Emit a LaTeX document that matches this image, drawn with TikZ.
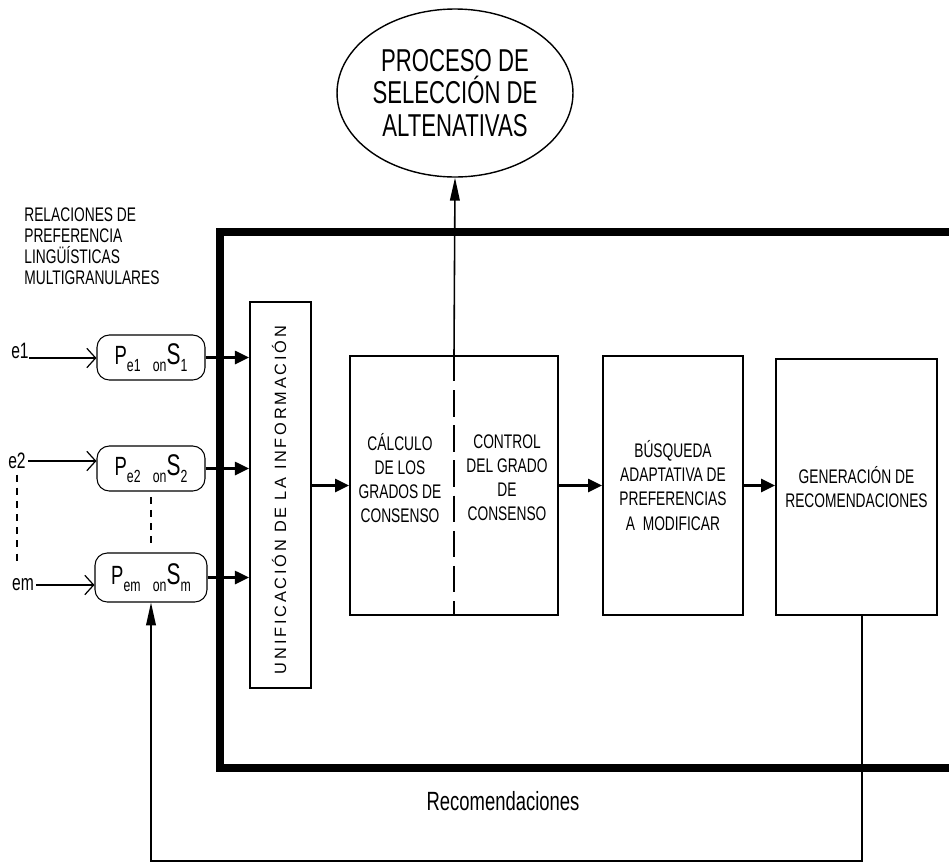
\documentclass[tikz,border=0pt]{standalone}
\usepackage{fontspec}
\setmainfont{Liberation Sans}
\newfontfamily\narrowfont{Liberation Sans}[FakeStretch=0.70]
\newfontfamily\spacedfont{Liberation Sans}[LetterSpace=17]
\usetikzlibrary{shapes.geometric,arrows.meta,positioning}
\newcommand{\psub}[1]{\raisebox{-3.8pt}{\fontsize{10}{10}\selectfont #1}}

\begin{document}
\begin{tikzpicture}[x=0.02cm, y=-0.02cm,
    block/.style={draw, line width=1.1pt, align=center, inner sep=0pt,
        font=\narrowfont\fontsize{11.2}{13.7}\selectfont},
    blocktext/.style={align=center, inner sep=0pt,
        font=\narrowfont\fontsize{11.2}{13.7}\selectfont},
    inbox/.style={draw, rounded corners=7pt, line width=0.6pt, inner sep=0pt,
        font=\narrowfont\fontsize{15}{15}\selectfont},
    sel/.style={draw, ellipse, line width=0.8pt, align=center, inner sep=0pt,
        minimum width=4.72cm, minimum height=3.36cm,
        font=\narrowfont\fontsize{18}{18.6}\selectfont},
    note/.style={align=left, inner sep=0pt, font=\narrowfont\fontsize{11.2}{12}\selectfont},
    expert/.style={inner sep=1pt, font=\narrowfont\fontsize{12.7}{12.7}\selectfont},
    frame/.style={line width=4.2pt},
    arrow/.style={-{Triangle[length=8pt,width=7.5pt]}, line width=1.2pt},
    inarrow/.style={-{Straight Barb[length=5pt,width=11pt]}, line width=0.7pt},
    uparrow/.style={-{Triangle[length=13pt,width=5.5pt]}, line width=0.9pt},
    divider/.style={line width=0.9pt, dash pattern=on 15pt off 5pt},
    dots/.style={line width=0.6pt, dash pattern=on 4pt off 3.5pt}
]
\useasboundingbox (0,0) rectangle (949,863);

% marco del sistema de consenso
\draw[frame] (960,232) -- (220,232) -- (220,768) -- (960,768);

% proceso de seleccion
\node[sel] (sel) at (455,93) {PROCESO DE\\SELECCIÓN DE\\ALTENATIVAS};

% preferencias de entrada
\node[note, anchor=north west] (rel) at (24,207)
    {RELACIONES DE\\PREFERENCIA\\LINGÜÍSTICAS\\MULTIGRANULARES};
\node[inbox, minimum width=2.16cm, minimum height=0.9cm] (pe1) at (151,357.5)
    {P\psub{e1\hspace{7pt}on}{\fontsize{17}{17}\selectfont S}\psub{1}};
\node[inbox, minimum width=2.16cm, minimum height=0.9cm] (pe2) at (151,468.5)
    {P\psub{e2\hspace{7pt}on}{\fontsize{17}{17}\selectfont S}\psub{2}};
\node[inbox, minimum width=2.24cm, minimum height=0.98cm] (pem) at (151,577.5)
    {P\psub{em\hspace{7pt}on}{\fontsize{17}{17}\selectfont S}\psub{m}};

\node[expert, anchor=base east, inner sep=0pt] (e1) at (29,358) {e1};
\node[expert] (e2) at (17,461) {e2};
\node[expert] (em) at (23,585) {em};

\draw[inarrow] (e1.base east) -- (e1.base east -| pe1.west);
\draw[inarrow] (e2.east) -- (e2.east -| pe2.west);
\draw[inarrow] (em.east) -- (em.east -| pem.west);
\draw[dots, shorten <=2pt, shorten >=8pt] (e2.south) -- (e2.south |- em.north);
\draw[dots, shorten <=3pt, shorten >=3.5pt] (pe2.south) -- (pe2.south |- pem.north);

% unificacion
\node[block, minimum width=1.22cm, minimum height=7.72cm] (uni) at (280.5,495) {};
\node[rotate=90, inner sep=0pt, font=\spacedfont\fontsize{9.3}{9.3}\selectfont]
    (unitxt) at (279,500) {UNIFICACIÓN DE LA INFORMACIÓN};

% consenso
\node[block, minimum width=4.16cm, minimum height=5.18cm] (cons) at (454,485.5) {};
\node[blocktext] (calc) at (400,478) {CÁLCULO\\DE LOS\\GRADOS DE\\CONSENSO};
\node[blocktext] (ctrl) at (507,478) {CONTROL\\DEL GRADO\\DE\\CONSENSO};
\draw[divider] (cons.north) -- (cons.south);

\node[block, minimum width=2.8cm, minimum height=5.18cm] (busq) at (673,485.5)
    {BÚSQUEDA\\ADAPTATIVA DE\\PREFERENCIAS\\A\ \ MODIFICAR};
\node[block, minimum width=3.22cm, minimum height=5.12cm] (gen) at (856.5,487)
    {GENERACIÓN DE\\RECOMENDACIONES};

% flechas
\draw[arrow] (pe1.east) -- (pe1.east -| uni.west);
\draw[arrow] (pe2.east) -- (pe2.east -| uni.west);
\draw[arrow] (pem.east) -- (pem.east -| uni.west);
\draw[arrow] (uni.east |- cons.west) -- (cons.west);
\draw[arrow] (cons.east) -- (busq.west);
\draw[arrow] (busq.east) -- (busq.east -| gen.west);
\draw[uparrow] (cons.north) -- (sel.south);

% recomendaciones
\coordinate (fb) at (862,861);
\draw[uparrow] (gen.south -| fb) -- (fb) -- (fb -| pem.south) -- (pem.south);
\node[note, font=\narrowfont\fontsize{15}{15}\selectfont] (rec) at (503,801) {Recomendaciones};

\end{tikzpicture}
\end{document}
